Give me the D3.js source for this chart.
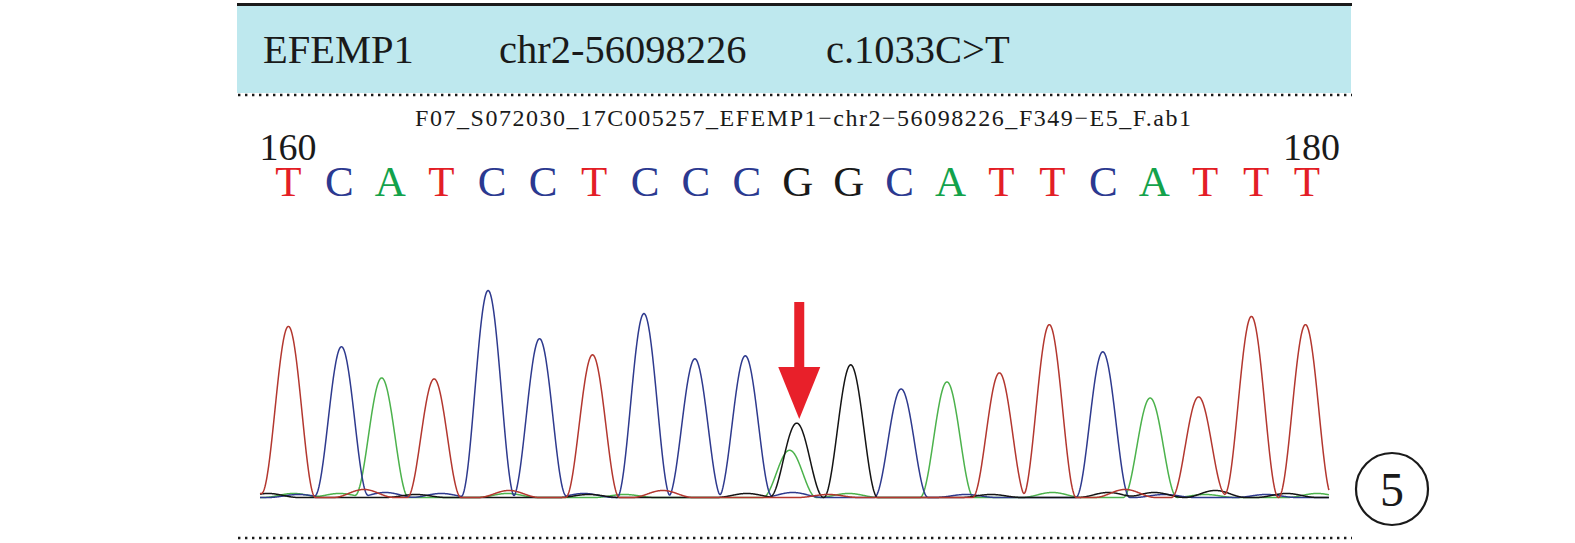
<!DOCTYPE html>
<html>
<head>
<meta charset="utf-8">
<script src="https://cdn.jsdelivr.net/npm/d3@7"></script>
<style>
  html, body { margin: 0; padding: 0; background: #fff; }
  svg { display: block; }
</style>
</head>
<body>
<div id="chart"></div>
<script>
// ---------------- data ----------------
const headerTexts = ["EFEMP1", "chr2-56098226", "c.1033C>T"];
const fileName = "F07_S072030_17C005257_EFEMP1\u2212chr2\u221256098226_F349\u2212E5_F.ab1";
const startPos = 160;
const endPos = 180;
const bases = ["T","C","A","T","C","C","T","C","C","C","G","G","C","A","T","T","C","A","T","T","T"];
const mutationPos = 170;
const circleLabel = "5";

// main peaks per channel: [position (base units), height (signal)]
const peaksT = [[160.00,170],[162.86,118],[165.97,142],[173.96,124],[174.94,172],[177.87,100],[178.91,180],[179.97,172]];
const peaksC = [[161.04,150],[163.92,206],[164.93,158],[166.98,183],[167.98,138],[168.97,141],[172.03,108],[175.99,145]];
const peaksA = [[161.83,119],[169.84,47],[172.93,115],[176.92,99]];
const peaksG = [[169.98,74],[171.04,132]];

// small background bumps per channel
const noiseT = [[159.5,4],[161.48,8],[164.33,7],[167.35,7],[170.6,3],[176.43,8],[178.4,3]];
const noiseC = [[160.2,3],[161.9,5],[163.0,4],[165.8,4],[169.9,5],[173.3,3],[177.2,3],[179.2,3]];
const noiseA = [[160.1,4],[161.0,4],[164.3,4],[166.6,3],[171.0,4],[175.0,5],[178.0,3],[180.2,4]];
const noiseG = [[159.6,4],[162.5,3],[165.9,3],[169.0,4],[173.8,3],[176.1,5],[177.0,5],[178.2,7],[179.6,4]];

const traceRange = [159.44, 180.43];

// ---------------- styles ----------------
const W = 1575, H = 543;
const serif = "'Liberation Serif', 'Times New Roman', serif";
const baseColor = { T: "#e31e26", C: "#2b3990", A: "#13a24b", G: "#1a1a1a" };
const traceColor = { T: "#b3372f", C: "#2e3a8e", A: "#4cb24c", G: "#141414" };

const svg = d3.select("#chart").append("svg")
  .attr("width", W).attr("height", H);

// header band
svg.append("rect").attr("x", 237).attr("y", 6).attr("width", 1114).attr("height", 87)
  .attr("fill", "#bee8ee");
svg.append("line").attr("x1", 237).attr("x2", 1352).attr("y1", 4.5).attr("y2", 4.5)
  .attr("stroke", "#1a1a1a").attr("stroke-width", 3);

const headerX = [263, 499, 826];
svg.selectAll("text.header").data(headerTexts).join("text")
  .attr("class", "header")
  .attr("x", (d, i) => headerX[i]).attr("y", 63)
  .attr("font-family", serif).attr("font-size", 40.5)
  .attr("fill", "#1a1a1a")
  .text(d => d);

// dotted separators
[95, 538].forEach(yy => {
  svg.append("line").attr("x1", 238).attr("x2", 1352).attr("y1", yy).attr("y2", yy)
    .attr("stroke", "#1a1a1a").attr("stroke-width", 2.4)
    .attr("stroke-dasharray", "2.4 4.6");
});

// file name
svg.append("text").attr("x", 803).attr("y", 126)
  .attr("text-anchor", "middle")
  .attr("font-family", serif).attr("font-size", 24)
  .attr("fill", "#1a1a1a")
  .attr("textLength", 776).attr("lengthAdjust", "spacing")
  .text(fileName);

// scales
const x = d3.scaleLinear().domain([startPos, endPos]).range([288.5, 1307]);
const y = d3.scaleLinear().domain([0, 200]).range([497.5, 296.5]);

// position labels
svg.append("text").attr("x", x(startPos) - 29).attr("y", 160)
  .attr("font-family", serif).attr("font-size", 38).attr("fill", "#1a1a1a")
  .text(String(startPos));
svg.append("text").attr("x", x(endPos) - 24).attr("y", 160)
  .attr("font-family", serif).attr("font-size", 38).attr("fill", "#1a1a1a")
  .text(String(endPos));

// base calls
svg.selectAll("text.base").data(bases).join("text")
  .attr("class", "base")
  .attr("x", (d, i) => x(startPos + i)).attr("y", 196)
  .attr("text-anchor", "middle")
  .attr("font-family", serif).attr("font-size", 43)
  .attr("fill", d => baseColor[d])
  .text(d => d);

// traces: raised-cosine peak shape (rounded top, near-linear flanks)
const peakHalfWidth = 0.53;
const noiseHalfWidth = 0.6;
function bump(pos, p, h, hw) {
  const d = Math.abs(pos - p);
  if (d >= hw) return 0;
  const c = Math.cos(Math.PI * d / (2 * hw));
  return h * c * c;
}
function signal(pos, peaks, noise) {
  let s = 0;
  for (const [p, h] of peaks) s += bump(pos, p, h, peakHalfWidth);
  for (const [p, h] of noise) s += bump(pos, p, h, noiseHalfWidth);
  return s;
}
const samples = d3.range(traceRange[0], traceRange[1] + 1e-9, 0.01);
const line = d3.line().x(d => x(d[0])).y(d => y(d[1]));
const channels = [
  { key: "A", peaks: peaksA, noise: noiseA },
  { key: "C", peaks: peaksC, noise: noiseC },
  { key: "G", peaks: peaksG, noise: noiseG },
  { key: "T", peaks: peaksT, noise: noiseT }
];
channels.forEach(ch => {
  const pts = samples.map(p => [p, signal(p, ch.peaks, ch.noise)]);
  svg.append("path").datum(pts)
    .attr("d", line)
    .attr("fill", "none")
    .attr("stroke", traceColor[ch.key])
    .attr("stroke-width", 1.5)
    .attr("stroke-linejoin", "round");
});

// mutation arrow
const ax = x(mutationPos) + 1.5;
const arrow = svg.append("g").attr("fill", "#e8202a");
arrow.append("rect").attr("x", ax - 5).attr("y", 302).attr("width", 10).attr("height", 70);
arrow.append("path").attr("d", `M${ax - 21},367 L${ax + 21},367 L${ax},419 Z`);

// circled label
svg.append("circle").attr("cx", 1392).attr("cy", 489).attr("r", 36)
  .attr("fill", "none").attr("stroke", "#1a1a1a").attr("stroke-width", 2.2);
svg.append("text").attr("x", 1392).attr("y", 506)
  .attr("text-anchor", "middle")
  .attr("font-family", serif).attr("font-size", 48).attr("fill", "#1a1a1a")
  .text(circleLabel);
</script>
</body>
</html>
